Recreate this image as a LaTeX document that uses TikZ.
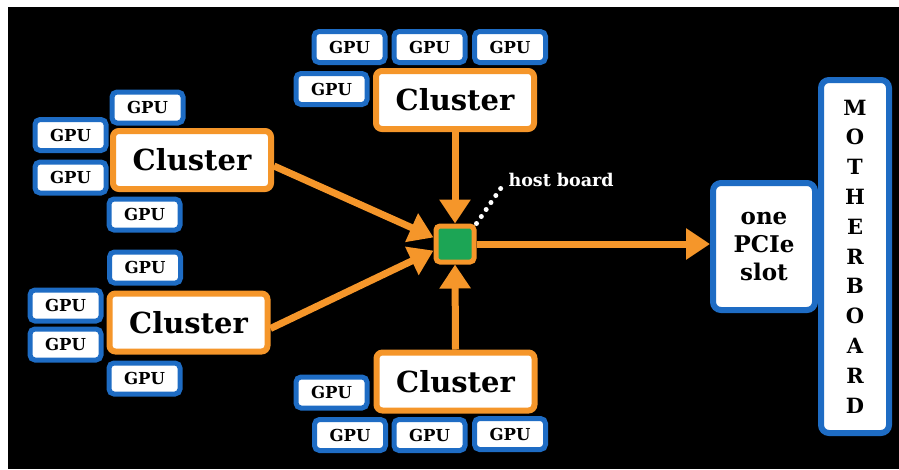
\documentclass[tikz,border=0pt]{standalone}
\usepackage{fontspec}
\setmainfont{DejaVu Serif}
\usetikzlibrary{arrows.meta,calc}
\definecolor{orng}{RGB}{245,150,42}
\definecolor{blu}{RGB}{30,108,196}
\definecolor{grn}{RGB}{28,165,85}
\tikzset{
  gpu/.style={draw=blu,line width=5pt,fill=white,rounded corners=5pt,minimum width=71pt,minimum height=31pt,inner sep=0pt,font=\bfseries\fontsize{16.5}{18}\selectfont},
  cluster/.style={draw=orng,line width=6pt,fill=white,rounded corners=6pt,minimum width=158pt,minimum height=58pt,inner sep=0pt,font=\bfseries\fontsize{29}{32}\selectfont},
  hostbox/.style={draw=orng,line width=5pt,fill=grn,rounded corners=4pt,minimum width=38pt,minimum height=36pt,inner sep=0pt},
  bigarrow/.style={draw=orng,line width=7pt,-{Triangle[width=30pt,length=24pt]}},
  bluebox/.style={draw=blu,line width=6pt,fill=white,rounded corners=8pt,inner sep=0pt,align=center},
  dots/.style={draw=white,line width=5pt,line cap=round,dash pattern=on 0pt off 8.5pt}
}
\begin{document}
\begin{tikzpicture}[x=1pt,y=-1pt]
\useasboundingbox (0,0) rectangle (899,469);
\fill[white] (0,0) rectangle (899,469);
\fill[black] (8,7) rectangle (899,469);
% top cluster
\node[gpu] (g1) at (349.5,47) {GPU};
\node[gpu] (g2) at (429.5,47) {GPU};
\node[gpu] (g3) at (510,47) {GPU};
\node[gpu] (g4) at (331.5,89) {GPU};
\node[cluster] (ct) at (455,100) {Cluster};
% left-top cluster
\node[gpu] (g5) at (147.5,107.5) {GPU};
\node[gpu] (g6) at (70.5,135) {GPU};
\node[gpu] (g7) at (70.5,177.5) {GPU};
\node[gpu] (g8) at (144.5,214.5) {GPU};
\node[cluster] (clt) at (192,160) {Cluster};
% left-bottom cluster
\node[gpu] (g9) at (145,267.5) {GPU};
\node[gpu] (g10) at (65.5,305.5) {GPU};
\node[gpu] (g11) at (65.5,344.5) {GPU};
\node[gpu] (g12) at (144.5,378.5) {GPU};
\node[cluster] (clb) at (188.5,322.5) {Cluster};
% bottom cluster
\node[gpu] (g13) at (331.5,392.5) {GPU};
\node[gpu] (g14) at (350,435) {GPU};
\node[gpu] (g15) at (429.5,435) {GPU};
\node[gpu] (g16) at (510,434) {GPU};
\node[cluster] (cb) at (455.5,381.5) {Cluster};
% host board
\node[hostbox] (host) at (455,244) {};
\node[anchor=west,text=white,font=\bfseries\fontsize{17.5}{19}\selectfont] (hb) at (505,180) {host board};
\coordinate (dotend) at ($(hb.west)+(-4,8)$);
\draw[dots] (host.north east) -- (dotend);
% motherboard and slot
\node[bluebox,minimum width=68pt,minimum height=353pt,font=\bfseries\fontsize{21}{29.8}\selectfont] (mb) at (855,256.5) {M\\O\\T\\H\\E\\R\\B\\O\\A\\R\\D};
\node[bluebox,minimum width=102pt,minimum height=127pt,font=\bfseries\fontsize{23}{28}\selectfont] (pcie) at (764,246.5) {one\\PCIe\\slot};
% arrows
\draw[bigarrow] (ct.south) -- (host.north);
\draw[bigarrow] (cb.north) -- (host.south);
\draw[bigarrow] ($(clt.east)+(0,6)$) -- (host.163);
\draw[bigarrow] ($(clb.east)+(0,6)$) -- (host.197);
\draw[bigarrow] (host.east) -- (host.east -| pcie.west);
\end{tikzpicture}
\end{document}
